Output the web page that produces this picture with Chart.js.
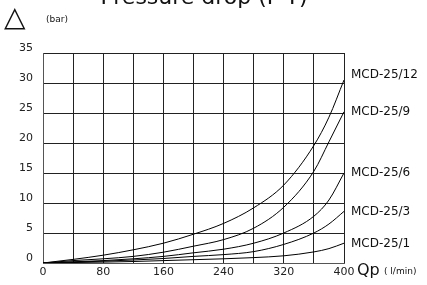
<!DOCTYPE html>
<html>
<head>
<meta charset="utf-8">
<script src="https://cdn.jsdelivr.net/npm/chart.js@4/dist/chart.umd.min.js"></script>
<style>
html,body{margin:0;padding:0;background:#fff;}
#wrap{width:427px;height:285px;position:relative;}
</style>
</head>
<body>
<div id="wrap"><canvas id="c" width="427" height="285"></canvas></div>
<script>
// Flow rate Qp (l/min) at which values were read
const flow = [0, 40, 80, 120, 160, 200, 240, 280, 320, 360, 380, 400];
// Pressure drop (bar) per model
const mcd25_12 = [0, 0.6, 1.3, 2.2, 3.3, 4.8, 6.6, 9.2, 13.0, 19.6, 24.3, 30.5];
const mcd25_9  = [0, 0.4, 0.7, 1.1, 1.8, 2.8, 3.9, 5.8, 9.3, 15.3, 20.2, 25.2];
const mcd25_6  = [0, 0.2, 0.4, 0.7, 1.1, 1.7, 2.3, 3.3, 5.0, 7.8, 10.5, 15.0];
const mcd25_3  = [0, 0.15, 0.3, 0.5, 0.75, 1.1, 1.4, 1.9, 3.1, 5.0, 6.5, 8.6];
const mcd25_1  = [0, 0.08, 0.15, 0.25, 0.4, 0.55, 0.7, 0.9, 1.2, 1.85, 2.4, 3.3];
const seriesNames = ['MCD-25/12', 'MCD-25/9', 'MCD-25/6', 'MCD-25/3', 'MCD-25/1'];
const seriesValues = [mcd25_12, mcd25_9, mcd25_6, mcd25_3, mcd25_1];
const xGridTicks = [0, 40, 80, 120, 160, 200, 240, 280, 320, 360, 400];
const xLabelTicks = [0, 80, 160, 240, 320, 400];
const yTicks = [0, 5, 10, 15, 20, 25, 30, 35];
const titleText = 'Pressure drop (P-T)';
const yUnit = '(bar)';
const xName = 'Qp';
const xUnit = '( l/min)';

const FONT = '"DejaVu Sans", sans-serif';
const labelDy = [-5, 0, 0, 0, 1];

const datasets = seriesValues.map((vals, i) => ({
  label: seriesNames[i],
  data: flow.map((q, j) => ({x: q, y: vals[j]})),
  borderColor: '#000',
  borderWidth: 1,
  pointRadius: 0,
  fill: false,
  cubicInterpolationMode: 'monotone'
}));

const decorations = {
  id: 'decorations',
  afterDraw(chart) {
    const ctx = chart.ctx;
    const area = chart.chartArea;
    ctx.save();
    ctx.fillStyle = '#111';
    // title (cut off at top)
    ctx.font = '22px ' + FONT;
    ctx.textAlign = 'center';
    ctx.textBaseline = 'alphabetic';
    ctx.fillText(titleText, 204, 4);
    // delta symbol
    ctx.font = '28px ' + FONT;
    ctx.textAlign = 'left';
    ctx.textBaseline = 'middle';
    ctx.fillText('\u25B3', 4, 19);
    // unit
    ctx.font = '9px ' + FONT;
    ctx.fillText(yUnit, 46, 20);
    // x axis name
    ctx.font = '16px ' + FONT;
    ctx.fillText(xName, 357, 271);
    ctx.font = '9px ' + FONT;
    ctx.fillText(xUnit, 384, 272);
    // series labels
    ctx.font = '12px ' + FONT;
    chart.data.datasets.forEach((ds, i) => {
      const meta = chart.getDatasetMeta(i);
      const last = meta.data[meta.data.length - 1];
      ctx.fillText(ds.label, area.right + 7, last.y + labelDy[i]);
    });
    ctx.restore();
  }
};

new Chart(document.getElementById('c'), {
  type: 'line',
  data: {datasets},
  plugins: [decorations],
  options: {
    responsive: false,
    animation: false,
    layout: {padding: {top: 53, right: 83, bottom: 0, left: 0}},
    plugins: {legend: {display: false}, tooltip: {enabled: false}, title: {display: false}},
    scales: {
      x: {
        type: 'linear',
        min: 0, max: 400,
        afterBuildTicks(scale) {
          scale.ticks = xGridTicks.map(v => ({value: v}));
        },
        afterFit(scale) { scale.height = 22; },
        grid: {color: '#222', lineWidth: 1, drawTicks: false},
        border: {color: '#555', width: 1},
        ticks: {
          autoSkip: false,
          maxRotation: 0,
          padding: 3,
          color: '#222',
          font: {family: FONT, size: 11},
          callback: v => xLabelTicks.includes(v) ? String(v) : ''
        }
      },
      y: {
        type: 'linear',
        min: 0, max: 35,
        afterBuildTicks(scale) {
          scale.ticks = yTicks.map(v => ({value: v}));
        },
        afterFit(scale) { scale.width = 43; },
        grid: {color: '#222', lineWidth: 1, drawTicks: false},
        border: {color: '#555', width: 1},
        ticks: {
          padding: 10,
          labelOffset: -5,
          color: '#222',
          font: {family: FONT, size: 11}
        }
      }
    }
  }
});
</script>
</body>
</html>
